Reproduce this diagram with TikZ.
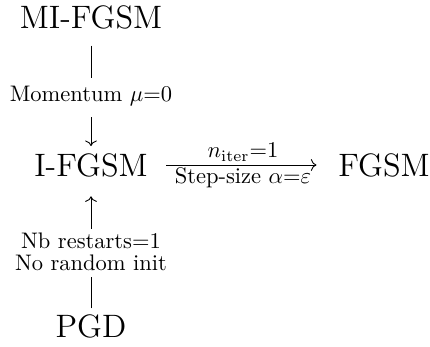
\documentclass[tikz,border=0pt]{standalone}
\usetikzlibrary{cd}
\begin{document}
\begin{tikzpicture}[x=0.4444pt,y=-0.4444pt,
  mainnode/.style={font=\Large,inner sep=0pt},
  lab/.style={font=\normalsize,inner sep=0pt,align=center},
  arr/.style={-{cm to},line width=0.4pt},
  plain/.style={line width=0.4pt}]
\useasboundingbox (0,0) rectangle (430,347);
\node[mainnode] (mi) at (91,17) {MI-FGSM};
\node[mainnode] (i) at (91,165) {I-FGSM};
\node[mainnode] (f) at (384,165) {FGSM};
\node[mainnode] (pgd) at (91,326) {PGD};
\node[lab] (l1) at (91,96) {Momentum $\mu{=}0$};
\node[lab] (l2) at (91,252) {Nb restarts${=}1$\\[-2pt]No random init};
\draw[plain,shorten <=7.3pt,shorten >=3.4pt] (mi) -- (l1);
\draw[arr,shorten <=4.8pt,shorten >=3pt] (l1) -- (i);
\draw[plain,shorten <=2.4pt,shorten >=2.4pt] (pgd) -- (l2);
\draw[arr,shorten <=1.5pt,shorten >=8.5pt] (l2) -- (i);
\draw[arr,shorten <=8pt,shorten >=9.5pt] (i) -- node[above,inner sep=1.5pt]{$n_{\mathrm{iter}}{=}1$} node[below,inner sep=1pt]{Step-size $\alpha{=}\varepsilon$} (f);
\end{tikzpicture}
\end{document}
